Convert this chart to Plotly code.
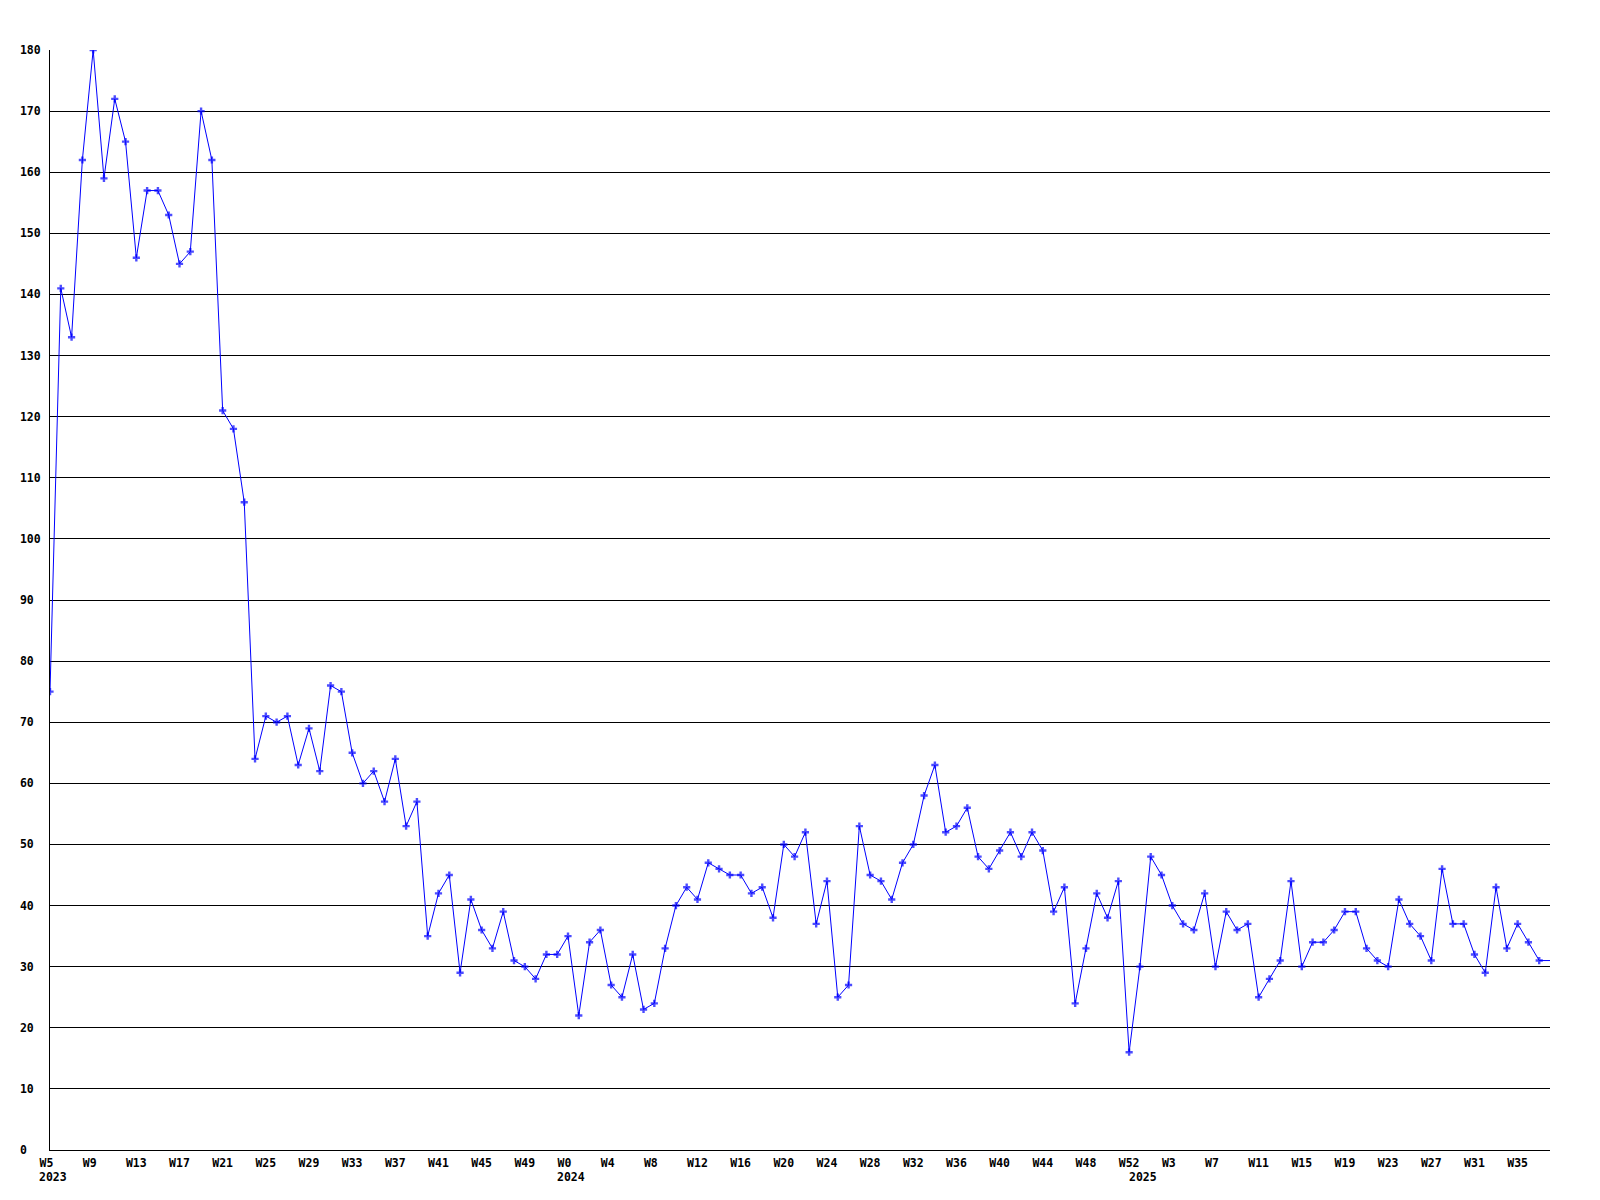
import plotly.graph_objects as go

# Weekly categories (2023 W5 ... 2025 W38)
weeks_2023 = ["2023-W%02d" % w for w in range(5, 53)]
weeks_2024 = ["2024-W%02d" % w for w in range(0, 53)]
weeks_2025 = ["2025-W%02d" % w for w in range(0, 39)]
categories = weeks_2023 + weeks_2024 + weeks_2025

values = [
    75, 141, 133, 162, 180, 159, 172, 165, 146, 157, 157, 153, 145, 147, 170, 162,
    121, 118, 106, 64, 71, 70, 71, 63, 69, 62, 76, 75, 65, 60, 62, 57, 64, 53, 57,
    35, 42, 45, 29, 41, 36, 33, 39, 31, 30, 28, 32, 32, 35, 22, 34, 36, 27, 25, 32,
    23, 24, 33, 40, 43, 41, 47, 46, 45, 45, 42, 43, 38, 50, 48, 52, 37, 44, 25, 27,
    53, 45, 44, 41, 47, 50, 58, 63, 52, 53, 56, 48, 46, 49, 52, 48, 52, 49, 39, 43,
    24, 33, 42, 38, 44, 16, 30, 48, 45, 40, 37, 36, 42, 30, 39, 36, 37, 25, 28, 31,
    44, 30, 34, 34, 36, 39, 39, 33, 31, 30, 41, 37, 35, 31, 46, 37, 37, 32, 29, 43,
    33, 37, 34, 31, 31,
]

# X tick labels (every 4th week)
x_tick_cats = [
    "2023-W05", "2023-W09", "2023-W13", "2023-W17", "2023-W21", "2023-W25",
    "2023-W29", "2023-W33", "2023-W37", "2023-W41", "2023-W45", "2023-W49",
    "2024-W00", "2024-W04", "2024-W08", "2024-W12", "2024-W16", "2024-W20",
    "2024-W24", "2024-W28", "2024-W32", "2024-W36", "2024-W40", "2024-W44",
    "2024-W48", "2024-W52", "2025-W03", "2025-W07", "2025-W11", "2025-W15",
    "2025-W19", "2025-W23", "2025-W27", "2025-W31", "2025-W35",
]
x_tick_labels = [
    "W5", "W9", "W13", "W17", "W21", "W25", "W29", "W33", "W37", "W41", "W45", "W49",
    "W0", "W4", "W8", "W12", "W16", "W20", "W24", "W28", "W32", "W36", "W40", "W44",
    "W48", "W52", "W3", "W7", "W11", "W15", "W19", "W23", "W27", "W31", "W35",
]
year_cats = ["2023-W05", "2024-W00", "2025-W00"]
year_labels = ["2023", "2024", "2025"]

y_tick_vals = [0, 10, 20, 30, 40, 50, 60, 70, 80, 90, 100, 110, 120, 130, 140, 150, 160, 170, 180]
y_tick_labels = ["0", "10", "20", "30", "40", "50", "60", "70", "80", "90", "100",
                 "110", "120", "130", "140", "150", "160", "170", "180"]

NB = "\u00a0"
FONT = "DejaVu Sans Mono"
FS = 11.5

marker_sizes = [6] * (len(values) - 1) + [0]

fig = go.Figure()
fig.add_trace(go.Scatter(
    x=categories, y=values, mode="lines+markers",
    line=dict(color="#0000FF", width=1),
    marker=dict(symbol="cross", size=marker_sizes, color="#0000FF", line=dict(width=0)),
    hoverinfo="skip", showlegend=False,
))

for cat, lab in zip(year_cats, year_labels):
    fig.add_annotation(
        x=cat, xref="x", y=0, yref="paper", text=lab, showarrow=False,
        xanchor="left", yanchor="middle", xshift=-13, yshift=-27,
        font=dict(family=FONT, size=FS, color="black", weight="bold"),
    )

# page body has an 8px default margin, so the figure is offset by 8px
fig.update_layout(
    width=1592, height=1192,
    margin=dict(l=42, r=50, t=42, b=50),
    paper_bgcolor="white", plot_bgcolor="white",
    font=dict(family=FONT, size=FS, color="black"),
)
fig.update_xaxes(
    type="category", categoryorder="array", categoryarray=categories,
    range=[0, len(categories) - 1],
    tickmode="array", tickvals=x_tick_cats,
    ticktext=[t + NB * (3 - len(t)) for t in x_tick_labels],
    showgrid=False, zeroline=False, showline=True, linecolor="black", linewidth=1,
    ticks="", ticklabelstandoff=2,
    tickfont=dict(family=FONT, size=FS, color="black", weight="bold"),
)
fig.update_yaxes(
    range=[0, 180], tickmode="array", tickvals=y_tick_vals,
    ticktext=[t + NB * (3 - len(t)) for t in y_tick_labels],
    showgrid=True, gridcolor="black", gridwidth=1,
    zeroline=False, showline=True, linecolor="black", linewidth=1,
    ticks="", ticklabelstandoff=6,
    tickfont=dict(family=FONT, size=FS, color="black", weight="bold"),
)

fig.write_html("out.html")
